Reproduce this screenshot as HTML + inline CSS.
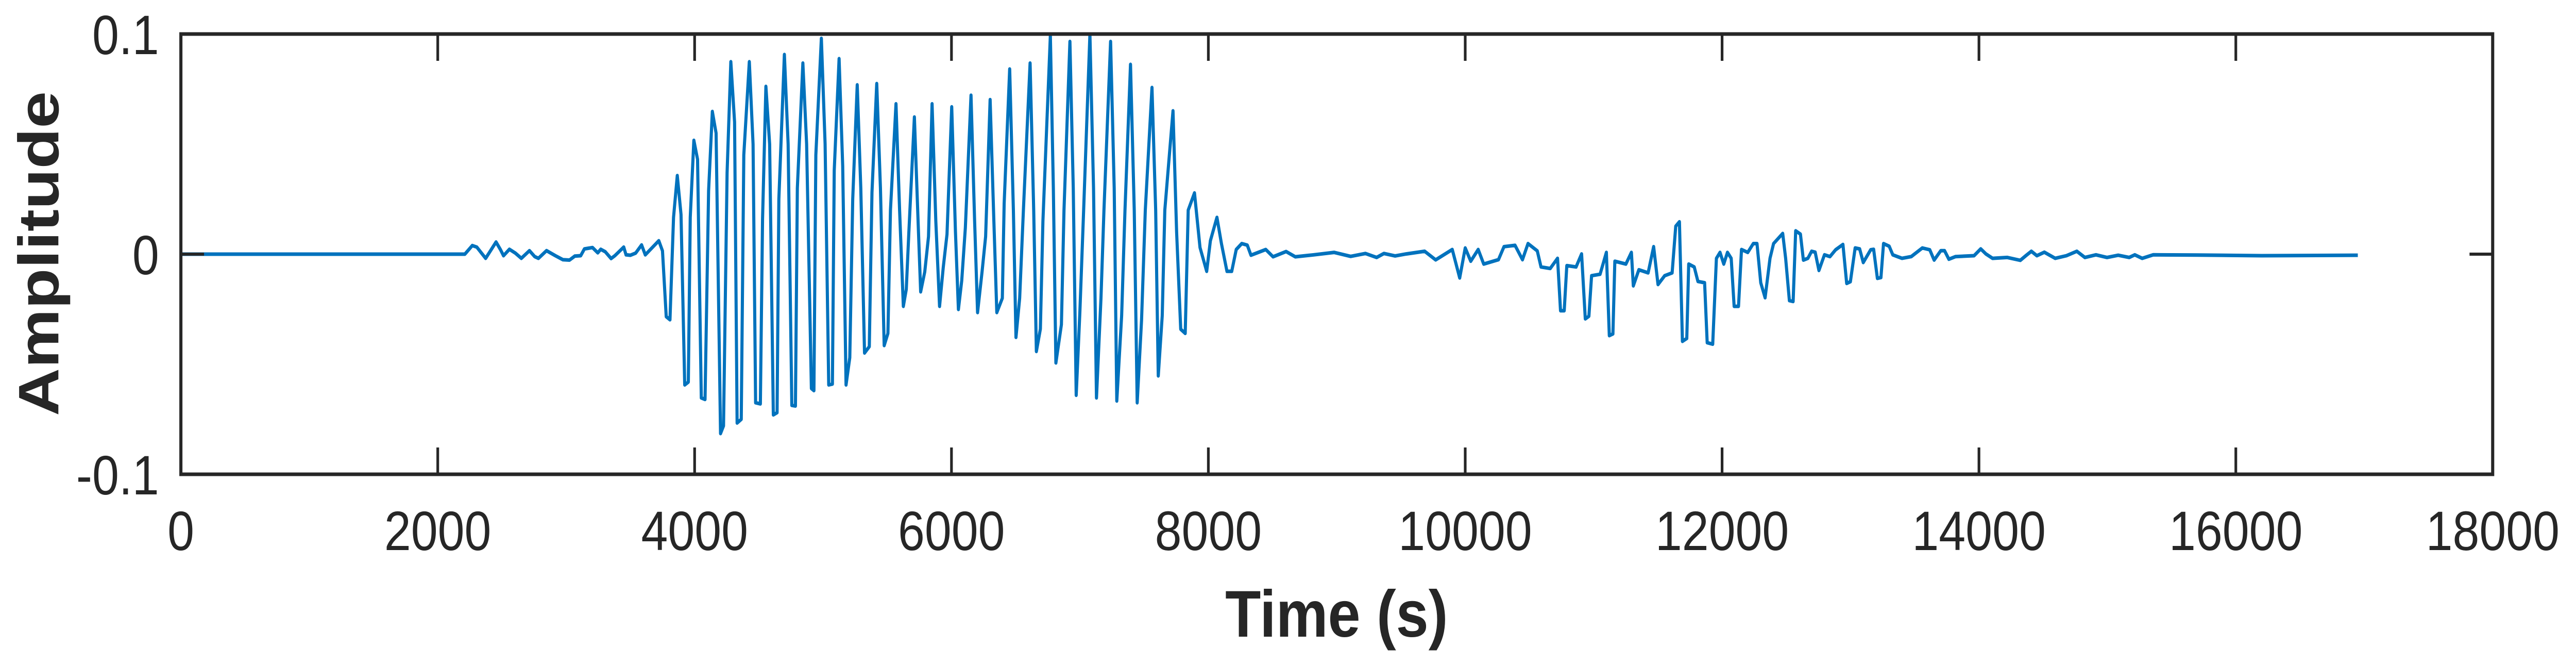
<!DOCTYPE html>
<html><head><meta charset="utf-8"><style>
html,body{margin:0;padding:0;background:#fff;overflow:hidden;width:100%;height:100%;}
svg{display:block;width:100vw;height:100vh;}
text{font-family:"Liberation Sans",Arial,sans-serif;fill:#262626;}
</style></head><body>
<svg id="chart" viewBox="0 0 5782 1288" preserveAspectRatio="none" xmlns="http://www.w3.org/2000/svg">
<rect x="0" y="0" width="5782" height="1288" fill="#fff"/>
<g id="plot"></g>
<g id="axes"></g>
<text x="3000" y="1235" font-size="128" font-weight="bold" text-anchor="middle" textLength="500" lengthAdjust="spacingAndGlyphs">Time (s)</text>
<text x="0" y="0" font-size="128" font-weight="bold" text-anchor="middle" textLength="630" lengthAdjust="spacingAndGlyphs" transform="translate(131,492) rotate(-90)">Amplitude</text>
</svg>
<script>
const xTicks = [0,2000,4000,6000,8000,10000,12000,14000,16000,18000];
const xTickLabels = ["0","2000","4000","6000","8000","10000","12000","14000","16000","18000"];
const yTicks = [-0.1,0,0.1];
const yTickLabels = ["-0.1","0","0.1"];
const times = [0,2061,2211,2269,2304,2373,2408,2454,2489,2512,2558,2604,2651,2714,2755,2784,2847,2916,2974,3026,3067,3113,3142,3205,3246,3269,3304,3350,3379,3448,3466,3500,3541,3587,3616,
3721,3750,3779,3808,3836,3865,3894,3923,3951,3966,3994,4023,4052,4081,4109,4138,4167,4202,4225,4253,4282,4311,4331,4363,4383,4426,4455,4475,4512,4529,4555,4584,4613,4642,4656,4699,4728,4757,4785,4800,4843,4872,4909,4929,4944,4987,5016,5044,5073,5087,5125,5153,5179,5208,5231,5266,5294,5323,5360,5381,5418,5447,5476,5505,5525,5568,5596,5625,5648,5668,5711,5740,5760,5792,5821,5849,5878,5907,5936,5965,6002,6031,6054,6080,6108,6152,6180,6203,6238,6266,6301,6330,6353,6396,6410,6453,6482,6502,6531,6560,6612,6640,6661,6692,6712,6770,6793,6813,6856,6876,6922,6948,6971,7000,7029,7078,7106,7129,7164,7187,7239,7267,7287,7325,7351,7394,7423,7446,7480,7509,7561,7590,7610,7641,7661,7725,7753,7785,7820,7843,7892,7935,
7987,8016,8067,8102,8145,8182,8217,8260,8303,8332,8447,8504,8605,8677,8821,8979,9108,9223,9310,9367,9454,9540,9684,9770,9899,9957,10000,10043,10101,10144,10259,10302,10388,10446,10489,10561,10590,10662,10719,10742,10771,10791,10863,10906,10935,10963,10984,11050,11099,11122,11150,11165,11251,11294,11309,11352,11424,11467,11501,11553,11611,11639,11668,11691,11725,11740,11783,11812,11864,11884,11927,11956,11984,12013,12042,12071,12094,12128,12151,12200,12243,12272,12301,12335,12373,12401,
12472,12495,12524,12553,12573,12610,12633,12668,12697,12725,12754,12797,12840,12884,12941,12970,12999,13036,13071,13099,13157,13180,13209,13237,13257,13301,13329,13401,13473,13559,13617,13651,13703,13732,13766,13818,13962,14014,14054,14106,14221,14322,14365,14408,14451,14509,14594,14681,14762,14825,14911,14997,15084,15170,15213,15271,15357,15700,16200,16950];
const amplitudes = [0,0,0,0.0039,0.0032,-0.0019,0.0013,0.0055,0.0020,-0.0007,0.0022,0.0005,-0.0019,0.0016,-0.0011,-0.0019,0.0016,-0.0007,-0.0025,-0.0027,-0.0009,-0.0007,0.0024,0.0030,0.0006,0.0022,0.0011,-0.0020,-0.0007,0.0032,-0.0003,-0.0005,0.0005,0.0042,-0.0003,
0.0061,0.0015,-0.0284,-0.0298,0.0167,0.0357,0.0180,-0.0594,-0.0581,0.0167,0.0517,0.0431,-0.0653,-0.0660,0.0288,0.0648,0.0550,-0.0815,-0.0780,0.0370,0.0874,0.0600,-0.0767,-0.0750,0.0450,0.0874,0.0500,-0.0675,-0.0680,0.0160,0.0762,0.0500,-0.0730,-0.0720,0.0250,0.0907,0.0500,-0.0687,-0.0690,0.0300,0.0868,0.0500,-0.0610,-0.0620,0.0450,0.0980,0.0500,-0.0594,-0.0590,0.0380,0.0888,0.0400,-0.0594,-0.0470,0.0250,0.0769,0.0300,-0.0449,-0.0420,0.0280,0.0775,0.0300,-0.0415,-0.0360,0.0200,0.0683,0.0200,-0.0237,-0.0160,0.0100,0.0623,0.0150,-0.0171,-0.0080,0.0080,0.0683,0.0150,-0.0237,-0.0060,0.0090,0.0669,0.0100,-0.0251,-0.0120,0.0120,0.0722,0.0150,-0.0265,-0.0080,0.0080,0.0702,0.0150,-0.0265,-0.0200,0.0230,0.0841,0.0200,-0.0378,-0.0200,0.0200,0.0868,0.0200,-0.0442,-0.0340,0.0150,0.0993,0.0300,-0.0494,-0.0320,0.0200,0.0966,0.0300,-0.0641,-0.0260,0.0200,0.0999,0.0300,-0.0653,-0.0200,0.0200,0.0966,0.0300,-0.0667,-0.0280,0.0200,0.0862,0.0200,-0.0675,-0.0300,0.0200,0.0757,0.0200,-0.0553,-0.0280,0.0200,0.0651,0.0100,-0.0341,-0.0360,0.0200,0.0278,0.0030,
-0.0078,0.0061,0.0167,0.0048,-0.0078,-0.0078,0.0021,0.0048,0.0041,-0.0005,0.0021,-0.0012,0.0012,-0.0012,-0.0003,0.0008,-0.0010,0.0003,-0.0015,0.0003,-0.0008,0.0001,0.0013,-0.0026,0.0021,-0.0108,0.0028,-0.0032,0.0021,-0.0045,-0.0025,0.0034,0.0040,-0.0025,0.0048,0.0015,-0.0058,-0.0065,-0.0019,-0.0257,-0.0257,-0.0052,-0.0058,0.0001,-0.0294,-0.0282,-0.0098,-0.0091,0.0008,-0.0370,-0.0362,-0.0032,-0.0045,0.0008,-0.0144,-0.0071,-0.0085,0.0034,-0.0138,-0.0098,-0.0085,0.0127,0.0147,-0.0396,-0.0383,-0.0045,-0.0058,-0.0124,-0.0130,-0.0402,-0.0409,-0.0019,0.0008,-0.0045,0.0008,-0.0019,-0.0237,-0.0237,0.0021,0.0008,0.0048,0.0048,-0.0130,-0.0198,-0.0019,0.0048,
0.0094,-0.0019,-0.0211,-0.0215,0.0106,0.0091,-0.0027,-0.0019,0.0013,0.0009,-0.0074,-0.0003,-0.0011,0.0020,0.0044,-0.0133,-0.0125,0.0028,0.0024,-0.0038,0.0020,0.0022,-0.0110,-0.0106,0.0048,0.0036,-0.0003,-0.0019,-0.0011,0.0028,0.0020,-0.0027,0.0016,0.0016,-0.0023,-0.0011,-0.0007,0.0024,0.0001,-0.0019,-0.0015,-0.0028,-0.0007,0.0013,-0.0007,0.0009,-0.0019,-0.0007,0.0013,-0.0015,-0.0003,-0.0015,-0.0005,-0.0015,-0.0003,-0.0019,-0.0003,-0.0004,-0.0007,-0.0005];

const NS="http://www.w3.org/2000/svg";
const L=406,R=5595,T=66,B=920;
const xMin=0,xMax=18000,yMin=-0.1,yMax=0.1;
function xs(v){return L+(v-xMin)/(xMax-xMin)*(R-L);}
function ys(v){return B-(v-yMin)/(yMax-yMin)*(B-T);}
function labelWidth(s){let w=0;for(const c of s){w+= c==='.'?30 : c==='-'?36 : 60;}return w;}
const plot=document.getElementById('plot');
const axes=document.getElementById('axes');

let d="";
for(let i=0;i<times.length;i++){d+=(i?"L":"M")+xs(times[i]).toFixed(1)+" "+ys(amplitudes[i]).toFixed(1);}
const line=document.createElementNS(NS,'path');
line.setAttribute('d',d);
line.setAttribute('fill','none');
line.setAttribute('stroke','#0072BD');
line.setAttribute('stroke-width','7');
line.setAttribute('stroke-linejoin','round');


plot.appendChild(line);

const box=document.createElementNS(NS,'rect');
box.setAttribute('x',L);box.setAttribute('y',T);box.setAttribute('width',R-L);box.setAttribute('height',B-T);
box.setAttribute('fill','none');box.setAttribute('stroke','#262626');box.setAttribute('stroke-width','7');


axes.appendChild(box);

const TL=52;
xTicks.forEach((v,i)=>{
  const x=xs(v);
  [[B,B-TL],[T,T+TL]].forEach(p=>{
    const t=document.createElementNS(NS,'line');
    t.setAttribute('x1',x);t.setAttribute('x2',x);t.setAttribute('y1',p[0]);t.setAttribute('y2',p[1]);
    t.setAttribute('stroke','#262626');t.setAttribute('stroke-width','6');
    
    
    axes.appendChild(t);
  });
  const lb=document.createElementNS(NS,'text');
  lb.setAttribute('x',x);lb.setAttribute('y',1067);lb.setAttribute('font-size','108');lb.setAttribute('text-anchor','middle');
  lb.setAttribute('textLength',labelWidth(xTickLabels[i]));lb.setAttribute('lengthAdjust','spacingAndGlyphs');
  lb.textContent=xTickLabels[i];
  
  
  axes.appendChild(lb);
});
yTicks.forEach((v,i)=>{
  const y=ys(v);
  [[L,L+TL],[R,R-TL]].forEach(p=>{
    const t=document.createElementNS(NS,'line');
    t.setAttribute('x1',p[0]);t.setAttribute('x2',p[1]);t.setAttribute('y1',y);t.setAttribute('y2',y);
    t.setAttribute('stroke','#262626');t.setAttribute('stroke-width','6');
    
    
    axes.appendChild(t);
  });
  const lb=document.createElementNS(NS,'text');
  lb.setAttribute('x',357);lb.setAttribute('y',y+39);lb.setAttribute('font-size','108');lb.setAttribute('text-anchor','end');
  lb.setAttribute('textLength',labelWidth(yTickLabels[i]));lb.setAttribute('lengthAdjust','spacingAndGlyphs');
  lb.textContent=yTickLabels[i];
  
  
  axes.appendChild(lb);
});
</script>
</body></html>
